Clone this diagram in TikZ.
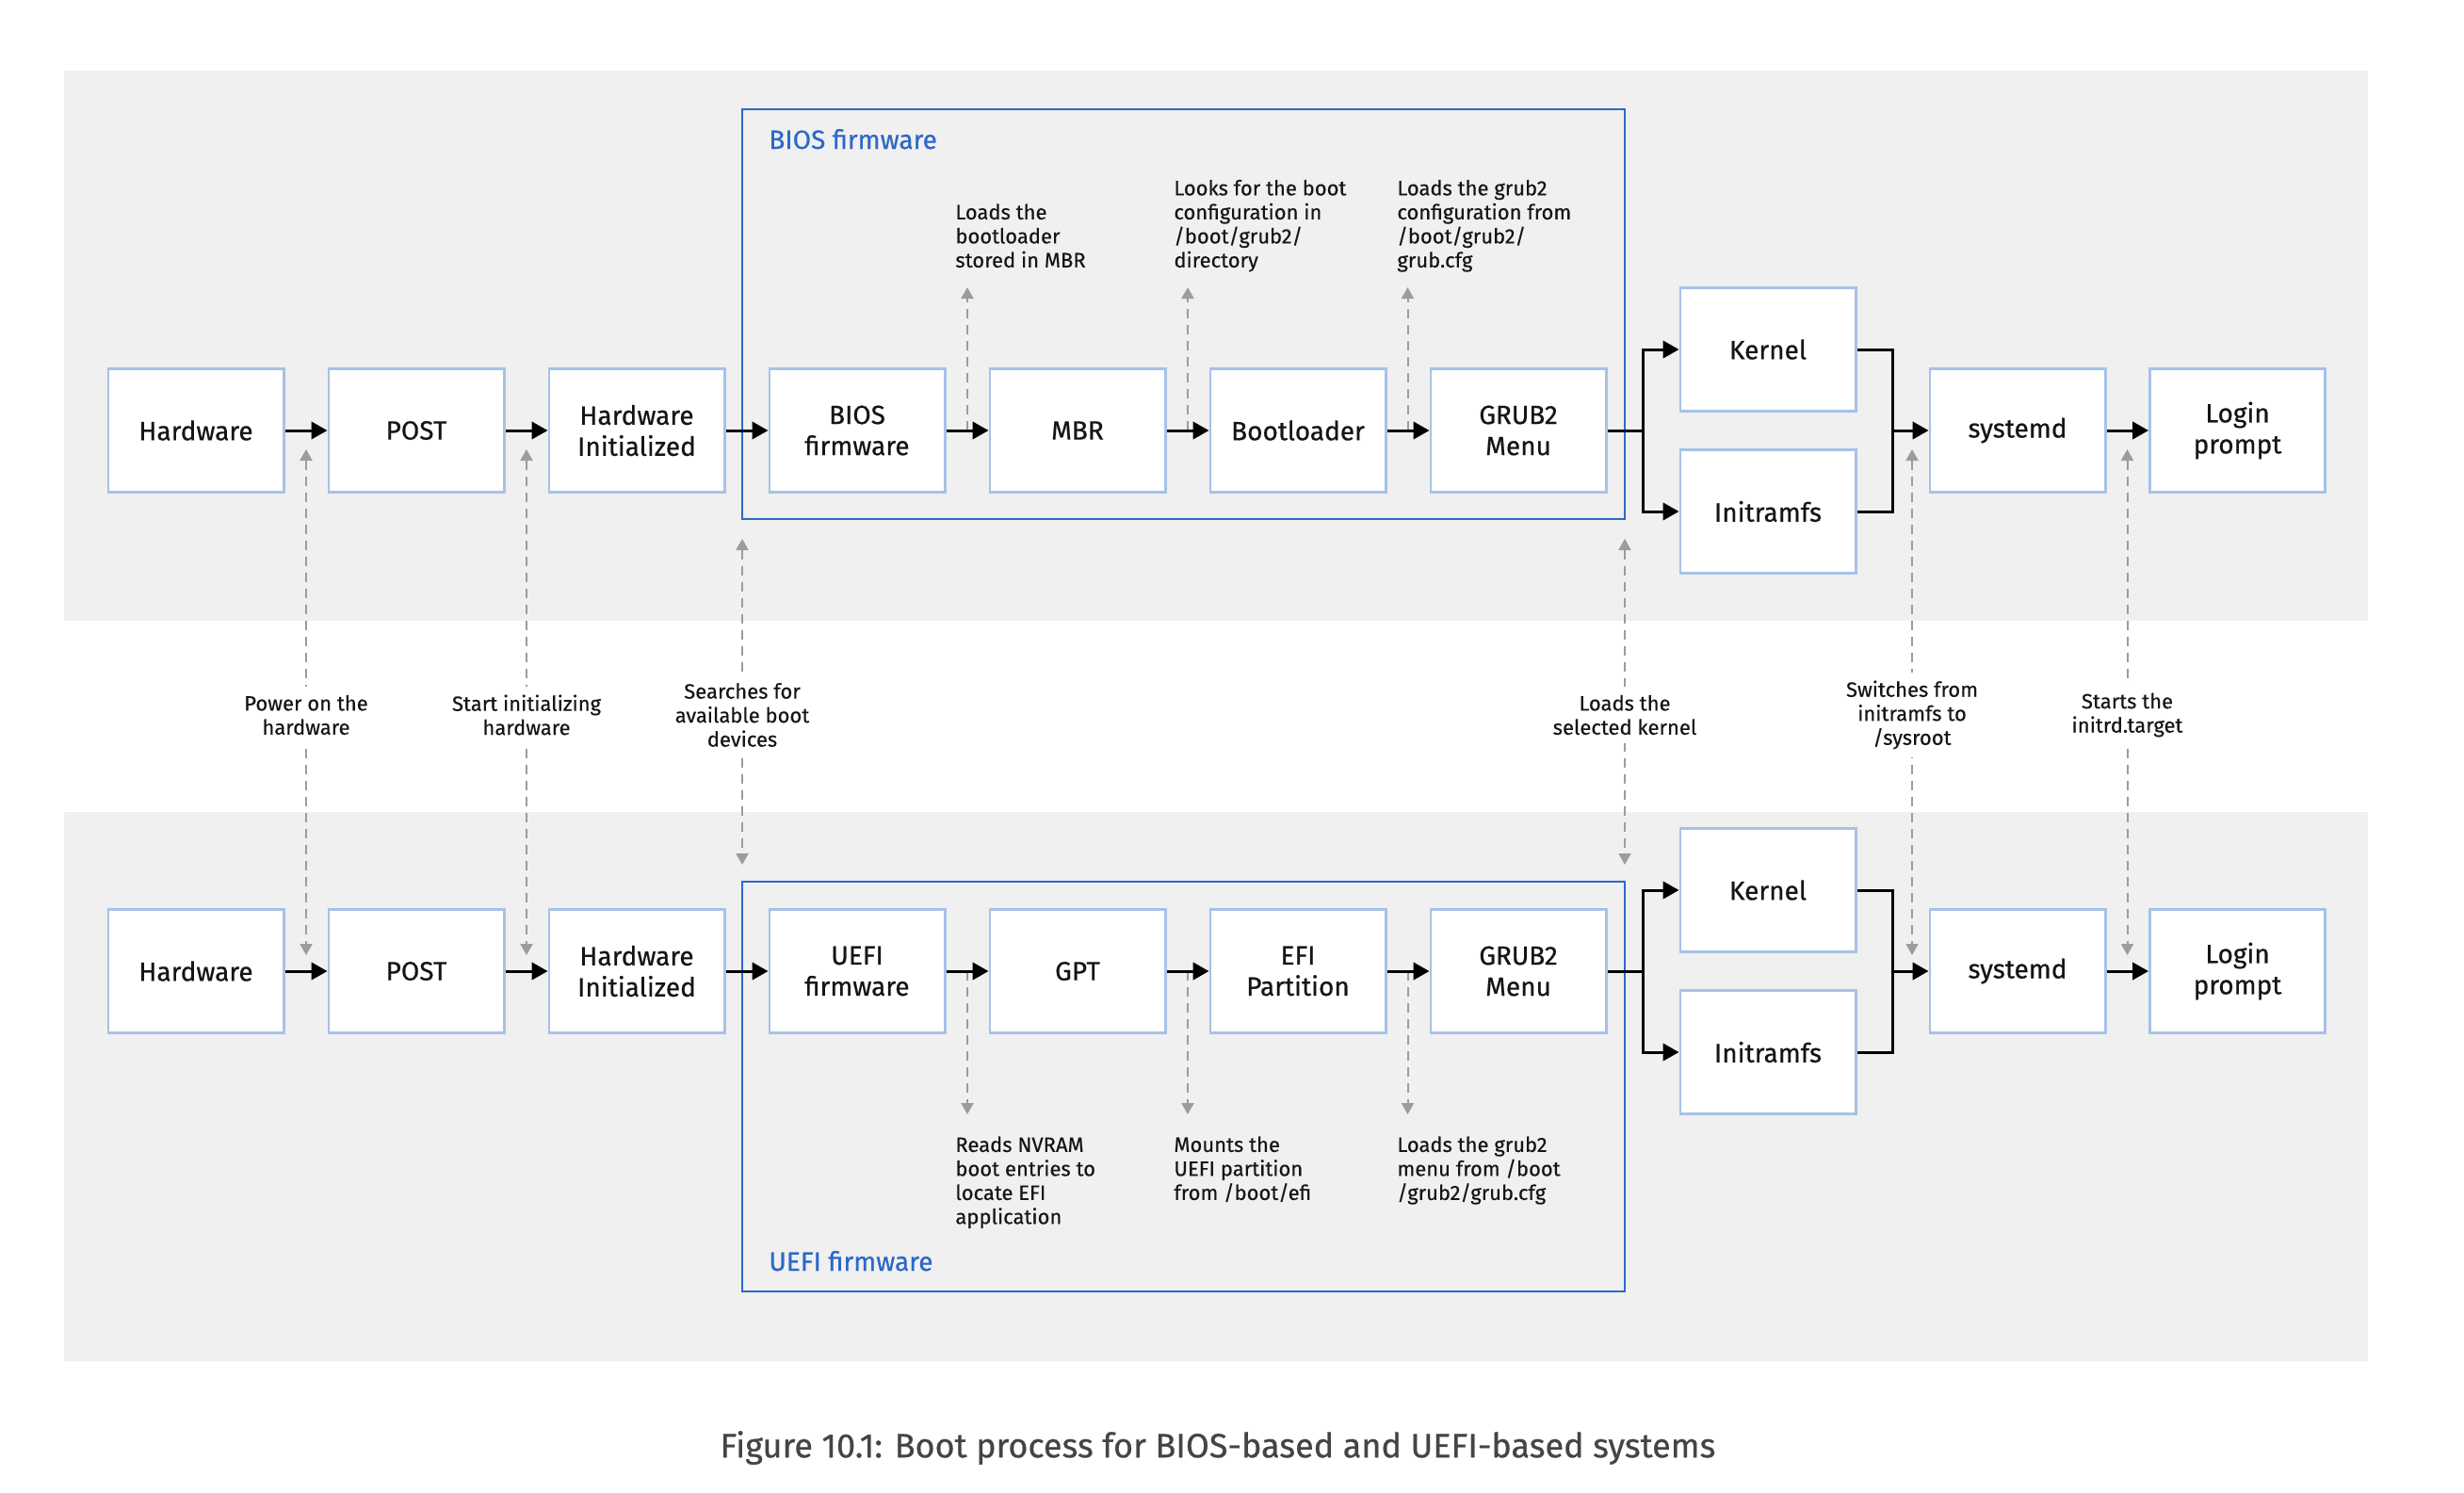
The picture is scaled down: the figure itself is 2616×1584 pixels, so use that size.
\documentclass[tikz,border=0pt]{standalone}
\usepackage{fontspec}
\setmainfont{Fira Sans}
\newfontfamily\medfont{Fira Sans}[FakeBold=0.55]
\newfontfamily\semifont{Fira Sans}[FakeBold=0.3]
\usetikzlibrary{arrows.meta}
\definecolor{bandgray}{HTML}{F0F0F0}
\definecolor{boxblue}{HTML}{A6C2E7}
\definecolor{grpblue}{HTML}{2D68C8}
\definecolor{dashgray}{HTML}{9C9C9C}
\definecolor{capgray}{HTML}{444444}
\definecolor{txtblack}{HTML}{151515}
\begin{document}
\begin{tikzpicture}[x=0.5pt,y=-0.5pt,
  stepbox/.style={draw=boxblue, line width=1.4pt, fill=white,
    minimum width=93.1pt, minimum height=65.6pt, inner sep=0pt,
    align=center, text=txtblack, font=\medfont\fontsize{14}{16.5}\selectfont},
  grpbox/.style={draw=grpblue, line width=1.35pt},
  grplabel/.style={anchor=base west, inner sep=0pt, text=grpblue,
    font=\medfont\fontsize{14}{16.5}\selectfont},
  flow/.style={line width=1.5pt, -{Triangle[length=8.5pt,width=9.2pt]}},
  plainline/.style={line width=1.5pt},
  dashline/.style={draw=dashgray, line width=1pt, dash pattern=on 5pt off 3.5pt},
  dtip/.style={-{Triangle[length=6pt,width=6.5pt,color=dashgray]}},
  dboth/.style={{Triangle[length=6pt,width=6.5pt,color=dashgray]}-{Triangle[length=6pt,width=6.5pt,color=dashgray]}},
  annot/.style={anchor=north west, inner sep=0pt, align=left, text=txtblack,
    font=\semifont\fontsize{11}{12.75}\selectfont},
  midtext/.style={fill=white, inner xsep=2pt, inner ysep=4.5pt, align=center,
    text=txtblack, font=\semifont\fontsize{11}{12.75}\selectfont}
]
\fill[white] (0,0) rectangle (2616,1584);
\useasboundingbox (0,0) rectangle (2616,1584);
% bands
\fill[bandgray] (68,75) rectangle (2514,659);
\fill[bandgray] (68,862) rectangle (2514,1445);
% group boxes
\draw[grpbox] (788,116) rectangle (1725,551);
\draw[grpbox] (788,936) rectangle (1725,1371);
\node[grplabel] (biosl) at (816,158) {BIOS firmware};
\node[grplabel] (uefil) at (816,1349) {UEFI firmware};

% coordinates for dashed connectors
\coordinate (a1s) at (1027,457);  \coordinate (a1e) at (1027,305);
\coordinate (a2s) at (1261,457);  \coordinate (a2e) at (1261,305);
\coordinate (a3s) at (1494.5,457);\coordinate (a3e) at (1494.5,305);
\coordinate (b1s) at (1027,1031); \coordinate (b1e) at (1027,1183);
\coordinate (b2s) at (1261,1031); \coordinate (b2e) at (1261,1183);
\coordinate (b3s) at (1494.5,1031);\coordinate (b3e) at (1494.5,1183);
\coordinate (m1t) at (325,477);   \coordinate (m1b) at (325,1014);
\coordinate (m2t) at (559,477);   \coordinate (m2b) at (559,1014);
\coordinate (m3t) at (788,572);   \coordinate (m3b) at (788,918);
\coordinate (m4t) at (1725,572);  \coordinate (m4b) at (1725,918);
\coordinate (m5t) at (2030,477);  \coordinate (m5b) at (2030,1014);
\coordinate (m6t) at (2258.5,477);\coordinate (m6b) at (2258.5,1014);

\draw[dashline,dtip] (a1s) -- (a1e);
\draw[dashline,dtip] (a2s) -- (a2e);
\draw[dashline,dtip] (a3s) -- (a3e);
\draw[dashline,dtip] (b1s) -- (b1e);
\draw[dashline,dtip] (b2s) -- (b2e);
\draw[dashline,dtip] (b3s) -- (b3e);
\draw[dashline,dboth] (m1t) -- (m1b);
\draw[dashline,dboth] (m2t) -- (m2b);
\draw[dashline,dboth] (m3t) -- (m3b);
\draw[dashline,dboth] (m4t) -- (m4b);
\draw[dashline,dboth] (m5t) -- (m5b);
\draw[dashline,dboth] (m6t) -- (m6b);

% annotations
\node[annot] (t1) at (1014,216) {Loads the\\bootloader\\stored in MBR};
\node[annot] (t2) at (1246,190.5) {Looks for the boot\\configuration in\\/boot/grub2/\\directory};
\node[annot] (t3) at (1483,190.5) {Loads the grub2\\configuration from\\/boot/grub2/\\grub.cfg};
\node[annot] (u1) at (1014,1206) {Reads NVRAM\\boot entries to\\locate EFI\\application};
\node[annot] (u2) at (1246,1206) {Mounts the\\UEFI partition\\from /boot/efi};
\node[annot] (u3) at (1483,1206) {Loads the grub2\\menu from /boot\\/grub2/grub.cfg};

\node[midtext] (x1) at (325,759) {Power on the\\hardware};
\node[midtext] (x2) at (559,759) {Start initializing\\hardware};
\node[midtext] (x3) at (788,759) {Searches for\\available boot\\devices};
\node[midtext] (x4) at (1725,759) {Loads the\\selected kernel};
\node[midtext] (x5) at (2030,759) {Switches from\\initramfs to\\/sysroot};
\node[midtext] (x6) at (2258.5,759) {Starts the\\initrd.target};

% top row
\node[stepbox] (hw1)   at (208,457)  {Hardware};
\node[stepbox] (post1) at (442,457)  {POST};
\node[stepbox] (hwi1)  at (676,457)  {Hardware\\Initialized};
\node[stepbox] (bios)  at (910,457)  {BIOS\\firmware};
\node[stepbox] (mbr)   at (1144,457) {MBR};
\node[stepbox] (boot)  at (1378,457) {Bootloader};
\node[stepbox] (grub1) at (1612,457) {GRUB2\\Menu};
\node[stepbox] (kern1) at (1877,371) {Kernel};
\node[stepbox] (initr1) at (1877,543) {Initramfs};
\node[stepbox] (sysd1) at (2142,457) {systemd};
\node[stepbox] (login1) at (2375.5,457) {Login\\prompt};

% bottom row
\node[stepbox] (hw2)   at (208,1031)  {Hardware};
\node[stepbox] (post2) at (442,1031)  {POST};
\node[stepbox] (hwi2)  at (676,1031)  {Hardware\\Initialized};
\node[stepbox] (uefi)  at (910,1031)  {UEFI\\firmware};
\node[stepbox] (gpt)   at (1144,1031) {GPT};
\node[stepbox] (efi)   at (1378,1031) {EFI\\Partition};
\node[stepbox] (grub2) at (1612,1031) {GRUB2\\Menu};
\node[stepbox] (kern2) at (1877,945) {Kernel};
\node[stepbox] (initr2) at (1877,1117) {Initramfs};
\node[stepbox] (sysd2) at (2142,1031) {systemd};
\node[stepbox] (login2) at (2375.5,1031) {Login\\prompt};

\coordinate (fork1) at (1744,457);  \coordinate (merge1) at (2009,457);
\coordinate (fork2) at (1744,1031); \coordinate (merge2) at (2009,1031);

% top arrows
\draw[flow] (hw1.east) -- (post1.west);
\draw[flow] (post1.east) -- (hwi1.west);
\draw[flow] (hwi1.east) -- (bios.west);
\draw[flow] (bios.east) -- (mbr.west);
\draw[flow] (mbr.east) -- (boot.west);
\draw[flow] (boot.east) -- (grub1.west);
\draw[plainline] (grub1.east) -- (fork1);
\draw[flow] (fork1) |- (kern1.west);
\draw[flow] (fork1) |- (initr1.west);
\draw[plainline] (kern1.east) -| (merge1) |- (initr1.east);
\draw[flow] (merge1) -- (sysd1.west);
\draw[flow] (sysd1.east) -- (login1.west);

% bottom arrows
\draw[flow] (hw2.east) -- (post2.west);
\draw[flow] (post2.east) -- (hwi2.west);
\draw[flow] (hwi2.east) -- (uefi.west);
\draw[flow] (uefi.east) -- (gpt.west);
\draw[flow] (gpt.east) -- (efi.west);
\draw[flow] (efi.east) -- (grub2.west);
\draw[plainline] (grub2.east) -- (fork2);
\draw[flow] (fork2) |- (kern2.west);
\draw[flow] (fork2) |- (initr2.west);
\draw[plainline] (kern2.east) -| (merge2) |- (initr2.east);
\draw[flow] (merge2) -- (sysd2.west);
\draw[flow] (sysd2.east) -- (login2.west);

% caption
\node[text=capgray, font=\medfont\fontsize{18}{21}\selectfont, inner sep=0pt] (cap) at (1293,1537)
  {Figure 10.1: Boot process for BIOS-based and UEFI-based systems};
\end{tikzpicture}
\end{document}
